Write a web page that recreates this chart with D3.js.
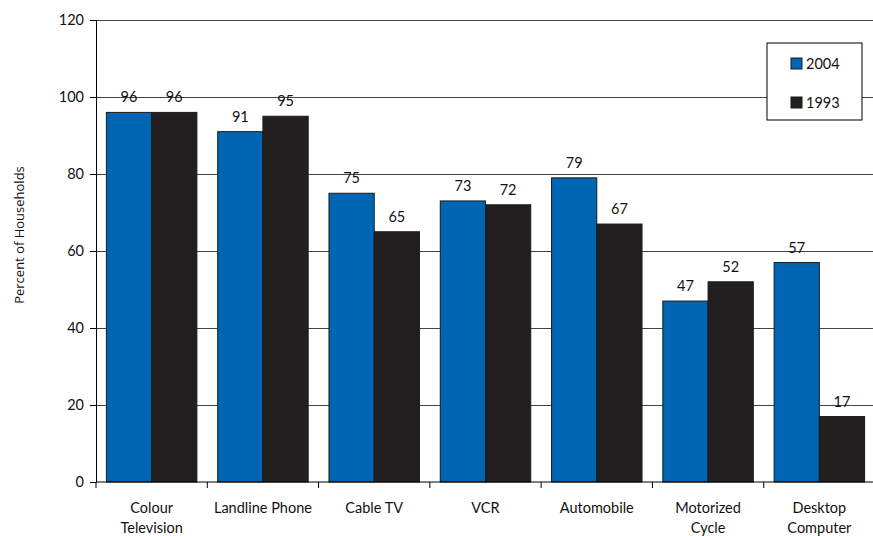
<!DOCTYPE html>
<html>
<head>
<meta charset="utf-8">
<script src="https://cdn.jsdelivr.net/npm/d3@7"></script>
<style>
  html, body { margin: 0; padding: 0; background: #fff; }
  svg { display: block; font-family: "Lato", "Open Sans", sans-serif; }
</style>
</head>
<body>
<svg id="chart" width="873" height="536"></svg>
<script>
// Household ownership of consumer goods, 2004 vs 1993
const categories = [
  ["Colour", "Television"],
  ["Landline Phone"],
  ["Cable TV"],
  ["VCR"],
  ["Automobile"],
  ["Motorized", "Cycle"],
  ["Desktop", "Computer"]
];
const seriesNames = ["2004", "1993"];
const values2004 = [96, 91, 75, 73, 79, 47, 57];
const values1993 = [96, 95, 65, 72, 67, 52, 17];
const yTicks = [0, 20, 40, 60, 80, 100, 120];
const colors = ["#0066b3", "#231f20"];

const FS = 14.5;
const svg = d3.select("#chart");
const margin = { left: 96, top: 20, right: -2, bottom: 54 };
const W = 873, H = 536;
const innerW = W - margin.left - margin.right;
const innerH = H - margin.top - margin.bottom;

const g = svg.append("g").attr("transform", `translate(${margin.left},${margin.top})`);

const x = d3.scaleBand().domain(d3.range(categories.length)).range([0, innerW]).paddingInner(0).paddingOuter(0);
const xs = d3.scaleBand().domain(seriesNames).range([0, x.bandwidth()]).paddingInner(0).paddingOuter(0.23);
const y = d3.scaleLinear().domain([0, 120]).range([innerH, 0]);

// horizontal gridlines
g.append("g").selectAll("line").data(yTicks.filter(d => d > 0)).join("line")
  .attr("x1", 0).attr("x2", innerW)
  .attr("y1", d => y(d)).attr("y2", d => y(d))
  .attr("stroke", "#444").attr("stroke-width", 1).attr("shape-rendering", "crispEdges");

// bars
const rows = categories.map((c, i) => ({ i, vals: [values2004[i], values1993[i]] }));
const groups = g.append("g").selectAll("g").data(rows).join("g")
  .attr("transform", d => `translate(${x(d.i)},0)`);
groups.selectAll("rect").data(d => d.vals.map((v, k) => ({ v, k }))).join("rect")
  .attr("x", d => xs(seriesNames[d.k]))
  .attr("width", xs.bandwidth())
  .attr("y", d => y(d.v))
  .attr("height", d => innerH - y(d.v))
  .attr("fill", d => colors[d.k])
  .attr("stroke", "#1a1a1a").attr("stroke-width", 1);

// value labels
groups.selectAll("text.val").data(d => d.vals.map((v, k) => ({ v, k }))).join("text")
  .attr("class", "val")
  .attr("x", d => xs(seriesNames[d.k]) + xs.bandwidth() / 2)
  .attr("y", d => y(d.v) - 10)
  .attr("text-anchor", "middle")
  .attr("font-size", FS).attr("fill", "#111")
  .text(d => d.v);

// y axis
const yAxis = g.append("g").call(d3.axisLeft(y).tickValues(yTicks).tickSize(6).tickPadding(6));
yAxis.select(".domain").attr("stroke", "#000");
yAxis.selectAll(".tick line").attr("stroke", "#000");
yAxis.selectAll("text").attr("font-size", FS).attr("fill", "#111").attr("font-family", "Lato, 'Open Sans', sans-serif");

// x axis
const xAxisG = g.append("g").attr("transform", `translate(0,${innerH})`);
xAxisG.append("line").attr("x1", 0).attr("x2", innerW).attr("stroke", "#000");
xAxisG.selectAll("line.tk").data(d3.range(categories.length + 1)).join("line")
  .attr("class", "tk")
  .attr("x1", d => d * x.bandwidth()).attr("x2", d => d * x.bandwidth())
  .attr("y1", 0).attr("y2", 6).attr("stroke", "#000");
const xl = xAxisG.selectAll("text").data(categories).join("text")
  .attr("x", (d, i) => x(i) + x.bandwidth() / 2)
  .attr("y", 31)
  .attr("text-anchor", "middle")
  .attr("font-size", FS).attr("fill", "#111");
xl.selectAll("tspan").data(d => d).join("tspan")
  .attr("x", function() { return d3.select(this.parentNode).attr("x"); })
  .attr("dy", (d, j) => j === 0 ? 0 : 20)
  .text(d => d);

// y axis title
svg.append("text")
  .attr("transform", "translate(24,235) rotate(-90)")
  .attr("text-anchor", "middle")
  .attr("font-family", "'Open Sans', sans-serif")
  .attr("font-size", 13).attr("fill", "#111")
  .text("Percent of Households");

// legend
const leg = svg.append("g").attr("transform", "translate(767,43)");
leg.append("rect").attr("width", 95).attr("height", 77)
  .attr("fill", "#fff").attr("stroke", "#000").attr("stroke-width", 1);
seriesNames.forEach((s, k) => {
  const row = leg.append("g").attr("transform", `translate(24,${15 + k * 39})`);
  row.append("rect").attr("width", 11).attr("height", 11)
    .attr("fill", colors[k]).attr("stroke", "#1a1a1a");
  row.append("text").attr("x", 15).attr("y", 11)
    .attr("font-size", FS).attr("fill", "#111").text(s);
});
</script>
</body>
</html>
